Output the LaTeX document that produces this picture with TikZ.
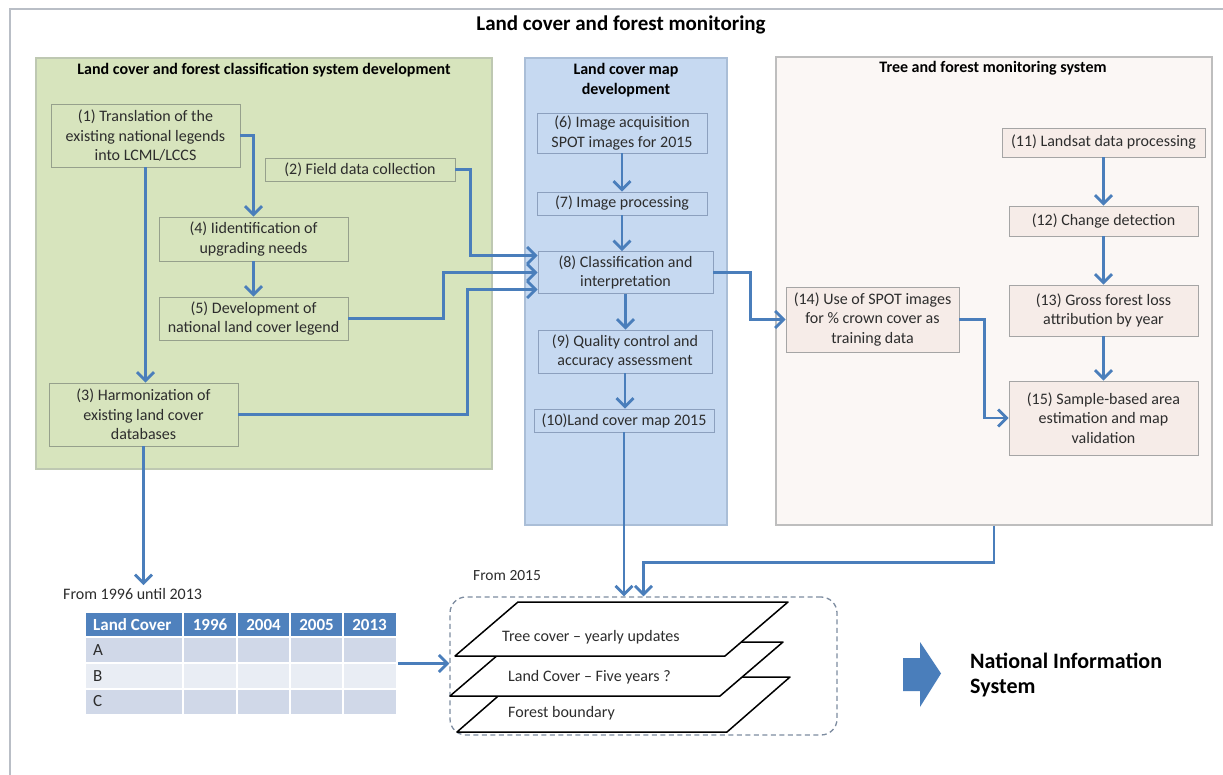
\documentclass[tikz,border=0pt]{standalone}
\usepackage{fontspec}
\setmainfont{Carlito}
\usetikzlibrary{arrows.meta,calc}
\definecolor{arrowblue}{RGB}{74,126,187}
\definecolor{greenfill}{RGB}{215,228,189}
\definecolor{greenline}{RGB}{190,200,178}
\definecolor{gboxline}{RGB}{150,160,140}
\definecolor{bluefill}{RGB}{198,217,241}
\definecolor{blueline}{RGB}{170,190,215}
\definecolor{bboxline}{RGB}{140,160,190}
\definecolor{pinkfill}{RGB}{251,247,245}
\definecolor{pinkline}{RGB}{190,190,190}
\definecolor{pinkbox}{RGB}{246,236,232}
\definecolor{pboxline}{RGB}{165,165,165}
\definecolor{txt}{RGB}{45,45,45}
\definecolor{hdr}{RGB}{79,129,189}
\definecolor{rowa}{RGB}{208,216,232}
\definecolor{rowb}{RGB}{233,237,244}
\definecolor{framec}{RGB}{185,190,198}
\definecolor{dashc}{RGB}{125,140,160}
\tikzset{
  basebox/.style={line width=0.9pt, inner sep=2pt, align=center, text=txt,
    font=\fontsize{16}{19.5}\selectfont},
  gbox/.style={basebox, draw=gboxline, fill=greenfill},
  bbox/.style={basebox, draw=bboxline, fill=bluefill},
  pbox/.style={basebox, draw=pboxline, fill=pinkbox},
  panel/.style={line width=1.2pt, inner sep=0pt},
  ptitle/.style={font=\fontsize{16}{20}\selectfont\bfseries, align=center, text=black},
  arr/.style={draw=arrowblue, line width=2.8pt,
    -{Straight Barb[length=8.5pt,width=17pt,line width=2.8pt]}},
  layer/.style={draw=black, line width=1.5pt, fill=white, line join=round},
  lbl/.style={font=\fontsize{16}{19}\selectfont, text=txt, anchor=west, inner sep=0pt},
  tcell/.style={font=\fontsize{17}{20}\selectfont, inner sep=0pt},
  thead/.style={tcell, text=white, font=\fontsize{17}{20}\selectfont\bfseries}
}
\begin{document}
\begin{tikzpicture}[x=1pt,y=-1pt]
\useasboundingbox (0,0) rectangle (1223,775);
\fill[white] (0,0) rectangle (1223,775);
% outer frame
\draw[framec, line width=1.5pt] (10,775) -- (10,9) -- (1223,9);
\node[font=\fontsize{21}{25}\selectfont\bfseries] (title) at (621,25) {Land cover and forest monitoring};

% panels
\node[panel, draw=greenline, fill=greenfill, minimum width=456pt, minimum height=411pt] (gp) at (264,263.5) {};
\node[panel, draw=blueline, fill=bluefill, minimum width=202pt, minimum height=467pt] (bp) at (626,291.5) {};
\node[panel, draw=pinkline, fill=pinkfill, minimum width=436pt, minimum height=468pt] (pk) at (994,291) {};

\node[ptitle] (gt) at (264,70) {Land cover and forest classification system development};
\node[ptitle] (bt) at (626,80) {Land cover map\\development};
\node[ptitle] (pt) at (993,68) {Tree and forest monitoring system};

% green boxes
\node[gbox, minimum width=189pt, minimum height=63pt] (n1) at (145.5,135.5) {(1) Translation of the\\existing national legends\\into LCML/LCCS};
\node[gbox, minimum width=190pt, minimum height=23pt] (n2) at (360,169.5) {(2) Field data collection};
\node[gbox, minimum width=189pt, minimum height=44pt] (n4) at (253.5,239) {(4) Iidentification of\\upgrading needs};
\node[gbox, minimum width=189pt, minimum height=43pt] (n5) at (253.5,318.5) {(5) Development of\\national land cover legend};
\node[gbox, minimum width=189pt, minimum height=63pt] (n3) at (143.5,414.5) {(3) Harmonization of\\existing land cover\\databases};

% blue boxes
\node[bbox, minimum width=170pt, minimum height=40pt] (n6) at (622,133) {(6) Image acquisition\\SPOT images for 2015};
\node[bbox, minimum width=170pt, minimum height=23pt] (n7) at (622,203.5) {(7) Image processing};
\node[bbox, minimum width=175pt, minimum height=42pt] (n8) at (625.5,272.5) {(8) Classification and\\interpretation};
\node[bbox, minimum width=174pt, minimum height=43pt] (n9) at (625,351.5) {(9) Quality control and\\accuracy assessment};
\node[bbox, minimum width=180pt, minimum height=23pt] (n10) at (624,420.5) {(10)Land cover map 2015};

% pink boxes
\node[pbox, minimum width=203pt, minimum height=29pt] (n11) at (1103.5,142.5) {(11) Landsat data processing};
\node[pbox, minimum width=189pt, minimum height=30pt] (n12) at (1103.5,221) {(12) Change detection};
\node[pbox, minimum width=189pt, minimum height=51pt] (n13) at (1103.5,310.5) {(13) Gross forest loss\\attribution by year};
\node[pbox, minimum width=173pt, minimum height=65pt] (n14) at (872.5,319.5) {(14) Use of SPOT images\\for \% crown cover as\\training data};
\node[pbox, minimum width=189pt, minimum height=74pt] (n15) at (1103.5,418) {(15) Sample-based area\\estimation and map\\validation};

% captions
\node[lbl] (cap1) at (63,594) {From 1996 until 2013};
\node[lbl, font=\fontsize{15.5}{19}\selectfont] (cap2) at (473,576) {From 2015};

% table
\fill[hdr] (86,613) rectangle (396,637);
\fill[rowa] (86,637) rectangle (396,663);
\fill[rowb] (86,663) rectangle (396,689);
\fill[rowa] (86,689) rectangle (396,714);
\foreach \xx in {183,237,290,343} \draw[white, line width=1.3pt] (\xx,613) -- (\xx,714);
\foreach \yy in {637,663,689} \draw[white, line width=1.3pt] (86,\yy) -- (396,\yy);
\path (241,663.5) node[minimum width=310pt, minimum height=101pt, inner sep=0pt] (tab) {};
\node[thead, anchor=west] (h0) at (93,625) {Land Cover};
\node[thead] (h1) at (210,625) {1996};
\node[thead] (h2) at (263.5,625) {2004};
\node[thead] (h3) at (316.5,625) {2005};
\node[thead] (h4) at (369.5,625) {2013};
\node[tcell, anchor=west, text=txt] (ra) at (93,650) {A};
\node[tcell, anchor=west, text=txt] (rb) at (93,676) {B};
\node[tcell, anchor=west, text=txt] (rc) at (93,701.5) {C};

% layers
\node[draw=dashc, dashed, dash pattern=on 5pt off 3.5pt, line width=1.3pt, rounded corners=16pt,
  minimum width=387pt, minimum height=138pt, inner sep=0pt] (lay) at (643.5,666) {};
\draw[layer] (457,732) -- (727,732) -- (790,677) -- (520,677) -- cycle;
\draw[layer] (450,696) -- (720,696) -- (783,642) -- (513,642) -- cycle;
\draw[layer] (455,656) -- (725,656) -- (788,602) -- (518,602) -- cycle;
\node[lbl] (l1) at (502,637) {Tree cover -- yearly updates};
\node[lbl] (l2) at (508,677) {Land Cover -- Five years ?};
\node[lbl] (l3) at (508,713) {Forest boundary};

% block arrow and NIS
\fill[arrowblue] (903,658) -- (920,658) -- (920,642) -- (941,673.5) -- (920,707) -- (920,691) -- (903,691) -- cycle;
\node[anchor=west, align=left, inner sep=0pt, font=\fontsize{22}{25}\selectfont\bfseries] (nis) at (970,674.5) {National Information\\System};

% connectors
\draw[arr] (n1.east) -| (n4.north);
\draw[arr] (n1.south) -- (n1.south |- n3.north);
\draw[arr] (n4.south) -- (n5.north);
\draw[arr] (n2.east) -- ++(15,0) |- ([yshift=17pt]n8.west);
\draw[arr] (n5.east) -- ++(95,0) |- (n8.west);
\draw[arr] (n3.east) -- ++(229,0) |- ([yshift=-17pt]n8.west);
\draw[arr] (n6.south) -- (n7.north);
\draw[arr] (n7.south) -- (n7.south |- n8.north);
\draw[arr] (n8.south) -- (n8.south |- n9.north);
\draw[arr] (n9.south) -- (n9.south |- n10.north);
\draw[arr] (n8.east) -- ++(37,0) |- (n14.west);
\draw[arr] (n11.south) -- (n12.north);
\draw[arr] (n12.south) -- (n13.north);
\draw[arr] (n13.south) -- (n15.north);
\draw[arr] (n14.east) -- ++(25,0) |- (n15.west);
\draw[arr] (n3.south) -- ([yshift=3pt]n3.south |- cap1.north);
\draw[arr] (n10.south) -- (n10.south |- lay.north);
\draw[arr] (pk.south) -- ++(0,37) -| (lay.north);
\draw[arr] ([xshift=2pt]tab.east) -- (tab.east -| lay.west);
\end{tikzpicture}
\end{document}
